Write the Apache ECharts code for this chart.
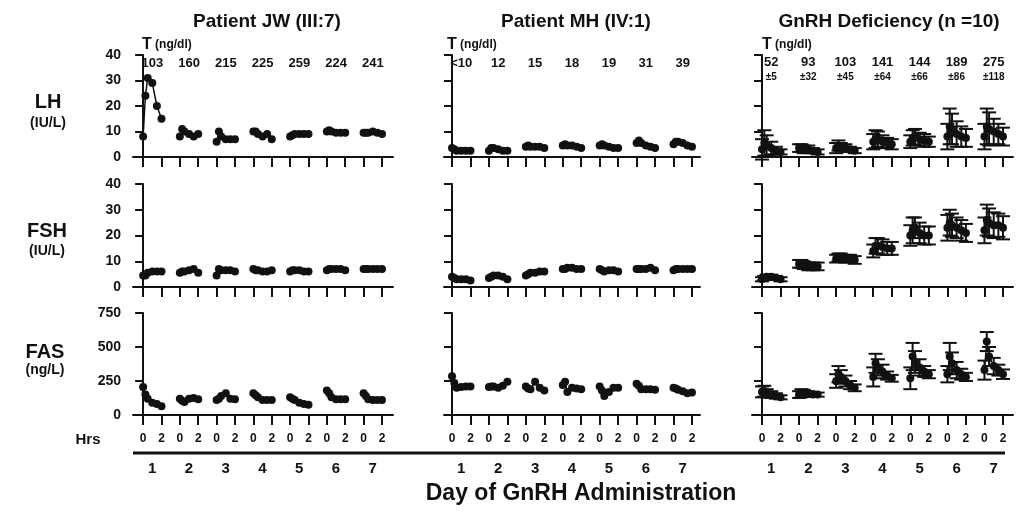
<!DOCTYPE html>
<html>
<head>
<meta charset="utf-8">
<script src="https://cdn.jsdelivr.net/npm/echarts@6/dist/echarts.min.js"></script>
<style>
  html, body { margin: 0; background: #fff; }
  #chart { width: 1018px; height: 512px; }
</style>
</head>
<body>
<div id="chart"></div>
<script>
// sampling times within each day (hours) and the 7 days
const days = [1, 2, 3, 4, 5, 6, 7];
const hours = [0, 0.25, 0.5, 1, 1.5, 2];
const hrsTicks = [0, 2, 4, 6, 8, 10, 12, 14, 16, 18, 20, 22, 24, 26];
const dayCenters = [1, 5, 9, 13, 17, 21, 25];

const panelTitles = ['Patient JW (III:7)', 'Patient MH (IV:1)', 'GnRH Deficiency (n =10)'];
const tJW = ['103', '160', '215', '225', '259', '224', '241'];
const tMH = ['<10', '12', '15', '18', '19', '31', '39'];
const tGnRH = ['52', '93', '103', '141', '144', '189', '275'];
const tGnRHsd = ['±5', '±32', '±45', '±64', '±66', '±86', '±118'];

// Patient JW
const lhJW = [
  [8, 24, 31, 29, 20, 15], [8, 11, 10, 9, 8, 9], [6, 10, 8, 7, 7, 7], [10, 10, 9, 8, 9, 7],
  [8, 8.5, 9, 9, 9, 9], [10, 10.5, 10, 9.5, 9.5, 9.5], [9.5, 9.5, 9.5, 10, 9.5, 9]
];
const fshJW = [
  [4.5, 4.5, 5.5, 6, 6, 6], [5.5, 6, 6, 6.5, 7, 5.5], [4.5, 7, 6.5, 6.5, 6.5, 6], [7, 6.5, 6.5, 6, 6, 6.5],
  [6, 6.5, 6.5, 6.5, 6, 6], [6.5, 7, 7, 7, 7, 6.5], [7, 7, 7, 7, 7, 7]
];
const fasJW = [
  [205, 150, 120, 90, 80, 65], [120, 105, 95, 120, 125, 115], [110, 120, 140, 160, 120, 115],
  [160, 145, 130, 110, 110, 110], [130, 120, 110, 90, 80, 75], [180, 160, 130, 115, 115, 115],
  [160, 140, 115, 110, 110, 110]
];

// Patient MH
const lhMH = [
  [3.5, 3, 2.5, 2.5, 2.5, 2.5], [2.5, 3.5, 3.5, 3, 2.5, 2.5], [4, 4.5, 4, 4, 4, 3.5], [4.5, 5, 4.5, 4.5, 4, 3.5],
  [4.5, 5, 4.5, 4, 3.5, 3.5], [5.5, 6.5, 5.5, 4.5, 4, 3.5], [5, 6, 6, 5.5, 4.5, 4]
];
const fshMH = [
  [4, 3.5, 3, 3, 3, 2.5], [3.5, 4, 4.5, 4.5, 4, 3], [4.5, 5, 5.5, 5.5, 6, 6], [7, 7, 7.5, 7.5, 7, 7],
  [7, 6.5, 6, 6.5, 6.5, 6], [7, 7, 7, 7, 7.5, 6.5], [6.5, 7, 7, 7, 7, 7]
];
const fasMH = [
  [285, 235, 200, 205, 210, 210], [205, 210, 210, 200, 215, 245], [210, 195, 190, 245, 200, 180],
  [220, 245, 170, 200, 195, 190], [210, 180, 140, 170, 200, 200], [230, 215, 190, 190, 190, 185],
  [200, 195, 185, 175, 160, 165]
];

// GnRH deficiency group: means and SEM
const lhGnRH = [
  [3, 5.5, 4.5, 3.5, 2.5, 2], [3.5, 3.5, 3, 3, 2.5, 2], [3.5, 4.5, 4, 3.5, 3, 2.5], [6, 7, 7, 6, 5.5, 5],
  [6, 7.5, 8, 7, 6.5, 6], [8, 12, 11, 9, 8, 7.5], [8, 12, 11, 10, 9, 8]
];
const lhGnRHerr = [
  [4, 5, 4, 2.5, 1.5, 1], [1.5, 1.5, 1.5, 1.5, 1, 1], [2, 2, 1.5, 1.5, 1, 1], [3, 3.5, 3, 2.5, 2, 2],
  [2.5, 3, 3, 2.5, 2.5, 2], [5, 7, 6, 5, 4, 3.5], [5, 7, 6.5, 5, 4, 3.5]
];
const fshGnRH = [
  [3, 3.5, 4, 4, 3.5, 3], [9, 9, 8.5, 8, 8, 8], [11, 11.5, 11.5, 11, 11, 10.5], [14, 16, 16, 15.5, 15, 15],
  [20, 22, 23, 21, 20, 20], [23, 25, 24, 23, 22, 21], [22, 26, 25, 24, 24, 23]
];
const fshGnRHerr = [
  [0.8, 0.8, 0.8, 0.8, 0.8, 0.8], [1.5, 1.5, 1.5, 1.5, 1.5, 1.5], [1.5, 1.5, 1.5, 1.5, 1.5, 1.5],
  [2.5, 3, 3, 3, 2.5, 2.5], [4, 5, 4, 4, 3.5, 3.5], [5, 5, 4.5, 4, 4, 3.5], [5, 6, 5.5, 5, 4.5, 4.5]
];
const fasGnRH = [
  [170, 175, 160, 150, 140, 130], [150, 160, 160, 155, 150, 150], [250, 300, 280, 250, 220, 200],
  [280, 380, 350, 320, 290, 270], [270, 430, 390, 350, 320, 300], [300, 430, 380, 330, 300, 280],
  [330, 540, 430, 360, 330, 300]
];
const fasGnRHerr = [
  [40, 40, 30, 25, 20, 15], [25, 30, 25, 20, 15, 15], [50, 60, 50, 40, 30, 25],
  [70, 70, 60, 50, 30, 25], [80, 100, 80, 60, 40, 30], [60, 100, 80, 60, 40, 30],
  [70, 70, 70, 60, 40, 35]
];

const ink = '#111';
const font = '"Liberation Sans", Arial, sans-serif';

const cols = [
  { left: 133, width: 260, min: -1.1, max: 27.2 },
  { left: 444, width: 256, min: -0.87, max: 26.87 },
  { left: 752, width: 261, min: -1.08, max: 27.08 }
];
const rows = [
  { top: 55, height: 102, max: 40, interval: 10 },
  { top: 184, height: 103, max: 40, interval: 10 },
  { top: 313, height: 102, max: 750, interval: 250 }
];

const panelData = [
  [lhJW, lhMH, lhGnRH],
  [fshJW, fshMH, fshGnRH],
  [fasJW, fasMH, fasGnRH]
];
const panelErr = [lhGnRHerr, fshGnRHerr, fasGnRHerr];
const tLabels = [tJW, tMH, tGnRH];

const chart = echarts.init(document.getElementById('chart'));

const grid = [], xAxis = [], yAxis = [], series = [];

rows.forEach((r, ri) => {
  cols.forEach((c, ci) => {
    const g = ri * 3 + ci;
    grid.push({ left: c.left, top: r.top, width: c.width, height: r.height });
    xAxis[g] = {
      type: 'value', gridIndex: g, min: c.min, max: c.max,
      axisLine: { show: true, onZero: false, lineStyle: { color: ink, width: 2 } },
      axisTick: { show: true, customValues: hrsTicks, length: 10, lineStyle: { color: ink, width: 2 } },
      axisLabel: {
        show: ri === 2, customValues: hrsTicks, margin: 18,
        formatter: v => (v % 4 === 0 ? '0' : '2'),
        color: ink, fontSize: 12, fontWeight: 'bold', fontFamily: font
      },
      splitLine: { show: false }
    };
    yAxis[g] = {
      type: 'value', gridIndex: g, min: 0, max: r.max, interval: r.interval,
      axisLine: { show: true, lineStyle: { color: ink, width: 2 } },
      axisTick: { show: true, length: 8, lineStyle: { color: ink, width: 2 } },
      axisLabel: { show: ci === 0, margin: 12, color: ink, fontSize: 14, fontWeight: 'bold', fontFamily: font },
      splitLine: { show: false }
    };
  });
});

// T values on top of the LH row
cols.forEach((c, ci) => {
  xAxis[9 + ci] = {
    type: 'value', gridIndex: ci, position: 'top', min: c.min, max: c.max,
    axisLine: { show: false }, axisTick: { show: false }, splitLine: { show: false },
    axisLabel: {
      inside: true, customValues: dayCenters, margin: ci === 2 ? 0 : 2,
      formatter: v => {
        const i = Math.round((v - 1) / 4);
        return ci === 2 ? '{a|' + tGnRH[i] + '}\n{b|' + tGnRHsd[i] + '}' : tLabels[ci][i];
      },
      color: ink, fontSize: 13, fontWeight: 'bold', fontFamily: font,
      rich: {
        a: { fontSize: 13, fontWeight: 'bold', lineHeight: 15, fontFamily: font, color: ink },
        b: { fontSize: 10, fontWeight: 'bold', lineHeight: 14, fontFamily: font, color: ink }
      }
    }
  };
});

// day numbers under the bottom row
cols.forEach((c, ci) => {
  xAxis[12 + ci] = {
    type: 'value', gridIndex: 6 + ci, position: 'bottom', min: c.min, max: c.max,
    axisLine: { show: false }, axisTick: { show: false }, splitLine: { show: false },
    axisLabel: {
      customValues: dayCenters, margin: 46,
      formatter: v => String(days[Math.round((v - 1) / 4)]),
      color: ink, fontSize: 15, fontWeight: 'bold', fontFamily: font
    }
  };
});

panelData.forEach((rowData, ri) => {
  rowData.forEach((panel, ci) => {
    const g = ri * 3 + ci;
    panel.forEach((vals, di) => {
      const pts = hours.map((h, k) => [di * 4 + h, vals[k]]);
      series.push({
        type: 'line', xAxisIndex: g, yAxisIndex: g, data: pts,
        symbol: 'circle', symbolSize: 8, showSymbol: true,
        itemStyle: { color: ink }, lineStyle: { color: ink, width: 1.5 },
        silent: true, z: 3
      });
      if (ci === 2) {
        const errs = panelErr[ri][di];
        series.push({
          type: 'custom', xAxisIndex: g, yAxisIndex: g, silent: true, z: 2,
          data: hours.map((h, k) => [di * 4 + h, vals[k], errs[k]]),
          renderItem: (params, api) => {
            const x = api.value(0), m = api.value(1), e = api.value(2);
            const top = api.coord([x, m + e]);
            const bot = api.coord([x, m - e]);
            const cap = 7;
            const st = { stroke: ink, lineWidth: 2 };
            return {
              type: 'group', children: [
                { type: 'line', shape: { x1: top[0], y1: top[1], x2: bot[0], y2: bot[1] }, style: st },
                { type: 'line', shape: { x1: top[0] - cap, y1: top[1], x2: top[0] + cap, y2: top[1] }, style: st },
                { type: 'line', shape: { x1: bot[0] - cap, y1: bot[1], x2: bot[0] + cap, y2: bot[1] }, style: st }
              ]
            };
          }
        });
      }
    });
  });
});

const boldText = (x, y, text, size, align) => ({
  type: 'text', x: x, y: y,
  style: { text: text, fill: ink, font: 'bold ' + size + 'px ' + font, align: align || 'center', verticalAlign: 'middle' }
});

const tHeader = x => ({
  type: 'text', x: x, y: 45,
  style: {
    text: '{t|T} {u|(ng/dl)}', fill: ink, align: 'left', verticalAlign: 'middle',
    rich: {
      t: { fontSize: 16, fontWeight: 'bold', fontFamily: font, fill: ink },
      u: { fontSize: 12, fontWeight: 'bold', fontFamily: font, fill: ink }
    }
  }
});

chart.setOption({
  animation: false,
  backgroundColor: '#fff',
  grid: grid,
  xAxis: xAxis,
  yAxis: yAxis,
  series: series,
  graphic: [
    boldText(267, 22, panelTitles[0], 19),
    boldText(576, 22, panelTitles[1], 19),
    boldText(889, 22, panelTitles[2], 19),
    tHeader(142), tHeader(447), tHeader(762),
    boldText(48, 102, 'LH', 20), boldText(48, 123, '(IU/L)', 14),
    boldText(47, 231, 'FSH', 20), boldText(47, 251, '(IU/L)', 14),
    boldText(45, 352, 'FAS', 20), boldText(45, 370, '(ng/L)', 14),
    boldText(88, 440, 'Hrs', 15),
    boldText(581, 494, 'Day of GnRH Administration', 23),
    { type: 'line', shape: { x1: 133, y1: 453, x2: 1005, y2: 453 }, style: { stroke: ink, lineWidth: 3 } }
  ]
});
</script>
</body>
</html>
